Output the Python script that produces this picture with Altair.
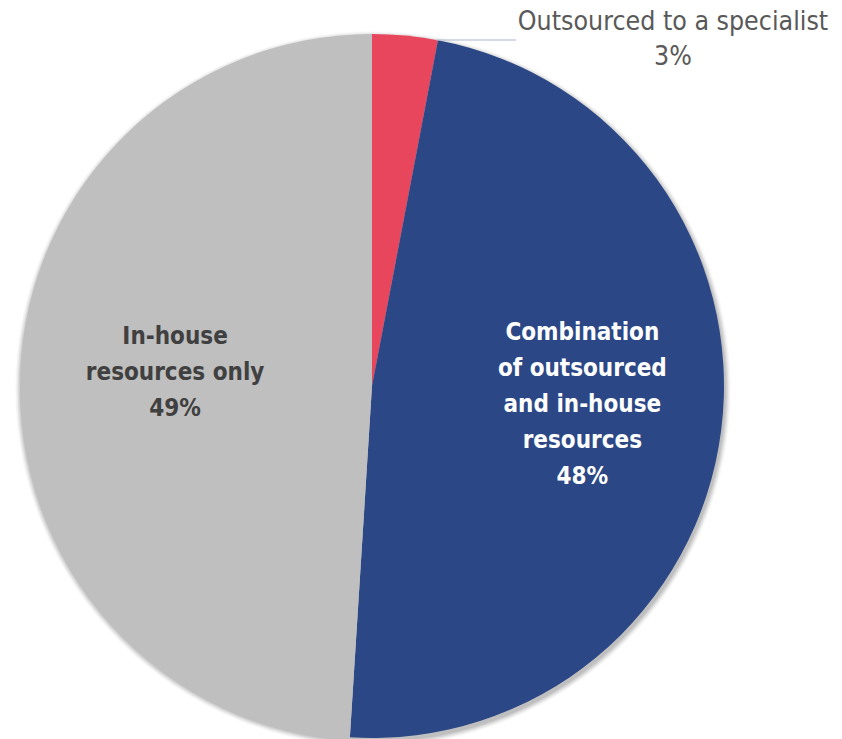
import altair as alt
import pandas as pd

categories = ["Outsourced to a specialist", "Combination of outsourced and in-house resources", "In-house resources only"]
labels = ["Outsourced to a specialist\n3%", "Combination\nof outsourced\nand in-house\nresources\n48%", "In-house\nresources only\n49%"]
values = [3, 48, 49]
order = [1, 2, 3]
colors = ["#E8465D", "#2B4785", "#BFBFBF"]

df = pd.DataFrame({"cat": categories, "label": labels, "value": values, "order": order})

CX, CY, R = 372, 386, 352
theta_scale = alt.Scale(domain=[0, 100], range=[0, 6.283185307])

base = alt.Chart(df)

# soft shadow
shadow_layers = []
for i, op in enumerate([0.07, 0.06, 0.05, 0.04, 0.03, 0.02]):
    shadow_layers.append(
        alt.Chart(pd.DataFrame({"k": [0]})).mark_arc(
            theta=0, theta2=6.283185307, radius=R + 1 + i, color="#000000", opacity=op
        ).encode(x=alt.value(CX + 1), y=alt.value(CY + 3))
    )

arcs = base.mark_arc(radius=R).encode(
    theta=alt.Theta("value:Q", stack=True, scale=theta_scale),
    color=alt.Color("cat:N", scale=alt.Scale(domain=categories, range=colors), legend=None),
    order=alt.Order("order:Q"),
    x=alt.value(CX),
    y=alt.value(CY),
)

mid = base.transform_window(
    cum="sum(value)", sort=[alt.SortField("order")], frame=[None, 0]
).transform_calculate(mid="datum.cum - datum.value / 2")

font = "Liberation Sans Narrow, DejaVu Sans Condensed, Open Sans, sans-serif"

gray_lbl = mid.transform_filter(alt.datum.order == 3).mark_text(
    radius=197, dy=-43, font=font, fontSize=24, fontWeight="bold", color="#404040",
    lineBreak="\n", lineHeight=36, align="center", baseline="middle",
).encode(
    theta=alt.Theta("mid:Q", stack=None, scale=theta_scale), text="label:N",
    x=alt.value(CX), y=alt.value(CY),
)

blue_lbl = mid.transform_filter(alt.datum.order == 2).mark_text(
    radius=212, dy=-80, font=font, fontSize=24, fontWeight="bold", color="#FFFFFF",
    lineBreak="\n", lineHeight=36, align="center", baseline="middle",
).encode(
    theta=alt.Theta("mid:Q", stack=None, scale=theta_scale), text="label:N",
    x=alt.value(CX), y=alt.value(CY),
)

red_lbl = base.transform_filter(alt.datum.order == 1).mark_text(
    font=font, fontSize=26.5, color="#595959", lineBreak="\n", lineHeight=35,
    align="center", baseline="middle",
).encode(text="label:N", x=alt.value(673), y=alt.value(22))

leader = base.transform_filter(alt.datum.order == 1).mark_rule(
    color="#A9B7CC", strokeWidth=1.2
).encode(x=alt.value(436), x2=alt.value(516), y=alt.value(40))

chart = alt.layer(*shadow_layers, arcs, gray_lbl, blue_lbl, leader, red_lbl).properties(
    width=842, height=739, padding=0, autosize=alt.AutoSizeParams(type="none"),
    background="#FFFFFF",
).configure_view(stroke=None)

chart.save("out.html", embed_options={"renderer": "svg", "actions": False})
